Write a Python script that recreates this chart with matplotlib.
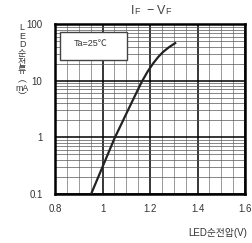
import numpy as np
import matplotlib
matplotlib.use("Agg")
import matplotlib.pyplot as plt
from matplotlib.ticker import MultipleLocator, LogLocator, NullFormatter
from matplotlib.patches import Rectangle

plt.rcParams['font.family'] = ['Liberation Sans', 'Noto Sans CJK KR', 'DejaVu Sans']

# forward voltage (V) vs forward current (mA)
vf = [0.952, 1.00, 1.05, 1.10, 1.14, 1.165, 1.19, 1.214, 1.235, 1.256, 1.28, 1.306]
i_f = [0.1, 0.30, 0.95, 2.6, 5.8, 9.5, 14.5, 20.4, 26.3, 32.4, 39, 46]

x_ticks = [0.8, 1.0, 1.2, 1.4, 1.6]
x_labels = ["0.8", "1", "1.2", "1.4", "1.6"]
y_ticks = [0.1, 1, 10, 100]
y_labels = ["0.1", "1", "10", "100"]

fig = plt.figure(figsize=(2.53, 2.43), dpi=100)
ax = fig.add_axes([0.2174, 0.2016, 0.751, 0.6996])

ax.set_yscale('log')
ax.set_xlim(0.8, 1.6)
ax.set_ylim(0.1, 100)

ax.set_xticks(x_ticks)
ax.set_xticklabels(x_labels)
ax.set_yticks(y_ticks)
ax.set_yticklabels(y_labels)
ax.xaxis.set_minor_locator(MultipleLocator(0.05))
ax.yaxis.set_minor_locator(LogLocator(base=10, subs=np.arange(2, 10)))
ax.yaxis.set_minor_formatter(NullFormatter())

ax.tick_params(which='both', length=0, labelsize=7, labelcolor='#333333')
ax.tick_params(axis='y', pad=9)
ax.tick_params(axis='x', pad=7)

ax.grid(which='major', color='black', linewidth=1.1, zorder=1)
ax.grid(which='minor', axis='x', color='#999999', linewidth=0.7, zorder=1)
ax.grid(which='minor', axis='y', color='#555555', linewidth=0.5, zorder=1)
ax.set_axisbelow(True)
for s in ax.spines.values():
    s.set_linewidth(1.8)
    s.set_color('black')

ax.plot(vf, i_f, color='#222222', linewidth=1.6, zorder=3,
        solid_joinstyle='round')

# condition box
ax.add_patch(Rectangle((0.026, 0.788), 0.353, 0.165, transform=ax.transAxes,
                       facecolor='white', edgecolor='#444444', linewidth=1.0, zorder=4))
ax.text(0.19, 0.885, "Ta=25℃", transform=ax.transAxes, fontsize=6.5,
        color='#333333', ha='center', va='center', zorder=5)

# title IF - VF (F in small size on the baseline)
ty = 1 - 14.5 / 243
tc = '#444444'
fig.text(130.5 / 253, ty, "I", fontsize=9, ha='left', va='baseline', color=tc)
fig.text(134 / 253, ty, "F", fontsize=6.5, ha='left', va='baseline', color=tc)
fig.text(150 / 253, ty, "−", fontsize=9, ha='center', va='baseline', color=tc)
fig.text(157 / 253, ty, "V", fontsize=9, ha='left', va='baseline', color=tc)
fig.text(165.5 / 253, ty, "F", fontsize=6.5, ha='left', va='baseline', color=tc)

# vertical y label
fig.text(0.087, 0.905, "L\nE\nD\n순\n전\n류\n︵\nmA\n︶", ha='center', va='top',
         fontsize=6.4, linespacing=0.95, color='#333333')

fig.text(0.976, 0.041, "LED순전압(V)", ha='right', va='center',
         fontsize=7, color='#333333')

fig.savefig("out.png", dpi=100)
